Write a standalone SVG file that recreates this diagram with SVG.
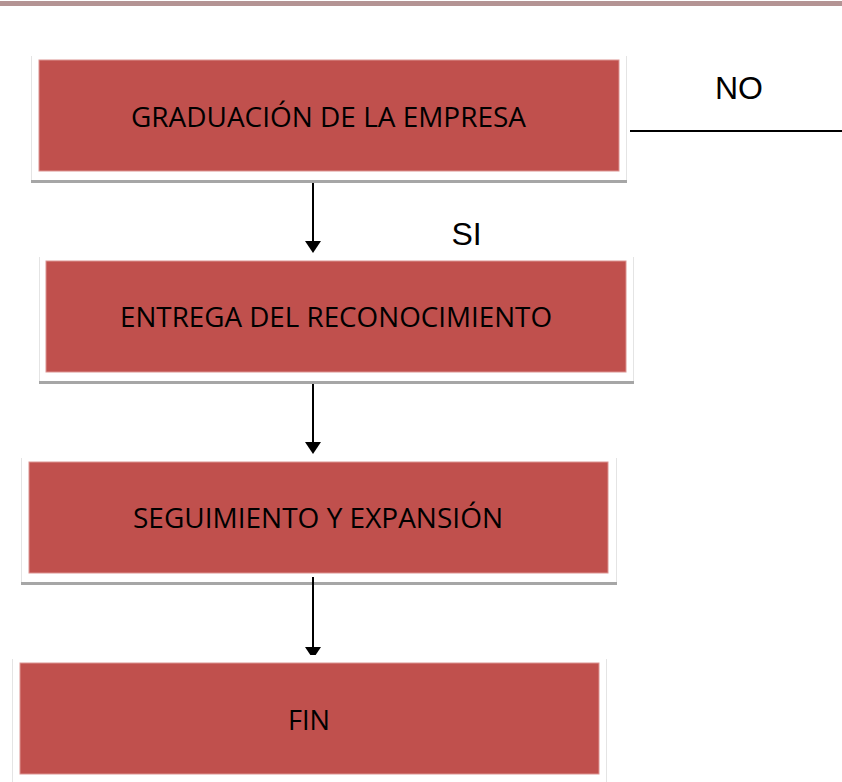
<svg xmlns="http://www.w3.org/2000/svg" width="842" height="782" viewBox="0 0 842 782">
<defs>
<style>
.panel{fill:#ffffff;}
.edge{stroke:#e4e4e4;stroke-width:1;fill:none;}
.shadow{fill:#a6a6a6;}
.box{fill:#c0504d;stroke:#dc9391;stroke-width:1;}
.btxt{font-family:"Open Sans","Liberation Sans",sans-serif;font-size:28px;fill:#000000;}
.lbl{font-family:"Liberation Sans",Arial,sans-serif;font-size:32px;fill:#000000;}
.conn{stroke:#000000;stroke-width:2;fill:none;}
.head{fill:#000000;}
</style>
</defs>
<rect x="0" y="1" width="842" height="5" fill="#b49494"/>

<g id="node-graduacion">
<rect class="panel" x="31" y="56" width="596" height="124"/>
<path class="edge" d="M31.5,56 V180 M626.5,56 V180"/>
<rect class="shadow" x="31" y="180" width="596" height="3"/>
<rect class="box" x="39" y="60" width="580" height="111"/>
<text class="btxt" x="131" y="127" textLength="395" lengthAdjust="spacingAndGlyphs">GRADUACIÓN DE LA EMPRESA</text>
</g>

<g id="node-entrega">
<rect class="panel" x="39" y="257" width="595" height="124"/>
<path class="edge" d="M39.5,257 V381 M633.5,257 V381"/>
<rect class="shadow" x="39" y="381" width="595" height="3"/>
<rect class="box" x="46" y="261" width="580" height="111"/>
<text class="btxt" x="120" y="327" textLength="432" lengthAdjust="spacingAndGlyphs">ENTREGA DEL RECONOCIMIENTO</text>
</g>

<g id="node-seguimiento">
<rect class="panel" x="21" y="458" width="596" height="124"/>
<path class="edge" d="M21.5,458 V582 M616.5,458 V582"/>
<rect class="shadow" x="21" y="582" width="596" height="3"/>
<rect class="box" x="29" y="462" width="579" height="111"/>
<text class="btxt" x="133" y="528" textLength="370" lengthAdjust="spacingAndGlyphs">SEGUIMIENTO Y EXPANSIÓN</text>
</g>

<g id="connectors">
<line class="conn" x1="313" y1="183" x2="313" y2="242"/>
<polygon class="head" points="305,241 321,241 313,253"/>
<line class="conn" x1="313" y1="384" x2="313" y2="443"/>
<polygon class="head" points="305,442 321,442 313,454"/>
<line class="conn" x1="313" y1="577" x2="313" y2="648"/>
<polygon class="head" points="305,647 321,647 313,659"/>
<line class="conn" x1="630" y1="131" x2="842" y2="131"/>
</g>

<g id="node-fin">
<rect class="panel" x="12" y="655" width="595" height="127"/>
<path class="edge" d="M12.5,659 V782 M606.5,659 V782"/>
<rect class="box" x="20" y="663" width="579" height="111"/>
<text class="btxt" x="288" y="730" textLength="42" lengthAdjust="spacingAndGlyphs">FIN</text>
</g>

<g id="labels">
<text class="lbl" x="715" y="99">NO</text>
<text class="lbl" x="451.5" y="245">SI</text>
</g>
</svg>
